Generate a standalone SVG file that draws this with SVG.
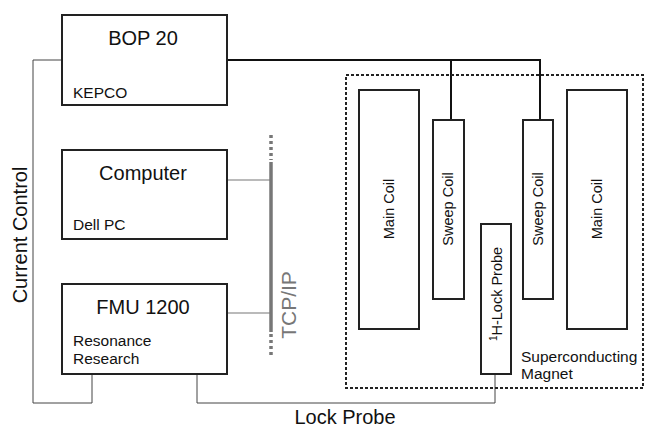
<svg xmlns="http://www.w3.org/2000/svg" width="645" height="427" viewBox="0 0 645 427">
<style>
.box{fill:#fff;stroke:#222;stroke-width:2}
.t{font-family:"Liberation Sans",Arial,sans-serif;fill:#111}
.big{font-size:20px}
.sm{font-size:15.5px}
.coil{font-size:14.5px}
.thin{fill:none;stroke:#444;stroke-width:1}
.gray{fill:none;stroke:#777;stroke-width:1.2}
.heavy{fill:none;stroke:#111;stroke-width:2}
</style>
<rect width="645" height="427" fill="#fff"/>
<g id="connectors">
<polyline class="thin" points="62,60 33,60 33,403 92,403 92,374"/>
<polyline class="thin" points="197,374 197,403 495,403 495,374"/>
<polyline class="heavy" points="227,60 540,60 540,120"/>
<line class="heavy" x1="451" y1="60" x2="451" y2="120"/>
<line class="gray" x1="227" y1="180" x2="271" y2="180"/>
<line class="gray" x1="227" y1="313" x2="271" y2="313"/>
<line x1="271" y1="162" x2="271" y2="332" stroke="#777" stroke-width="3.5"/>
<line x1="271" y1="135" x2="271" y2="160" stroke="#777" stroke-width="3.5" stroke-dasharray="3,3"/>
<line x1="271" y1="334" x2="271" y2="358" stroke="#777" stroke-width="3.5" stroke-dasharray="3,3"/>
</g>
<text class="t" font-size="20" transform="translate(27,235) rotate(-90)" text-anchor="middle">Current Control</text>
<text class="t" font-size="21" style="fill:#777" transform="translate(296,305) rotate(-90)" text-anchor="middle">TCP/IP</text>
<text class="t" font-size="20" x="345" y="424" text-anchor="middle">Lock Probe</text>
<g id="bop20">
<rect class="box" x="62" y="15" width="165" height="90"/>
<text class="t big" x="143" y="45" text-anchor="middle">BOP 20</text>
<text class="t sm" x="73" y="98">KEPCO</text>
</g>
<g id="computer">
<rect class="box" x="62" y="150" width="165" height="89"/>
<text class="t big" x="143" y="180" text-anchor="middle">Computer</text>
<text class="t sm" x="73" y="230">Dell PC</text>
</g>
<g id="fmu1200">
<rect class="box" x="62" y="284" width="165" height="90"/>
<text class="t big" x="143" y="314" text-anchor="middle">FMU 1200</text>
<text class="t sm" x="73" y="346">Resonance</text>
<text class="t sm" x="73" y="364">Research</text>
</g>
<g id="magnet">
<rect x="346" y="75" width="297" height="313" fill="none" stroke="#222" stroke-width="2" stroke-dasharray="3,2"/>
<text class="t sm" x="521" y="362">Superconducting</text>
<text class="t sm" x="521" y="379">Magnet</text>
</g>
<g id="main-coil-left">
<rect class="box" x="359" y="90" width="60" height="239"/>
<text class="t coil" transform="translate(394,209) rotate(-90)" text-anchor="middle">Main Coil</text>
</g>
<g id="sweep-coil-left">
<rect class="box" x="433" y="120" width="31" height="179"/>
<text class="t coil" transform="translate(453,209) rotate(-90)" text-anchor="middle">Sweep Coil</text>
</g>
<g id="lock-probe">
<rect class="box" x="481" y="224" width="30" height="150"/>
<text class="t coil" transform="translate(502,294) rotate(-90)" text-anchor="middle"><tspan font-size="10" dy="-5">1</tspan><tspan dy="5">H-Lock Probe</tspan></text>
</g>
<g id="sweep-coil-right">
<rect class="box" x="523" y="120" width="30" height="179"/>
<text class="t coil" transform="translate(543,209) rotate(-90)" text-anchor="middle">Sweep Coil</text>
</g>
<g id="main-coil-right">
<rect class="box" x="567" y="90" width="60" height="239"/>
<text class="t coil" transform="translate(602,209) rotate(-90)" text-anchor="middle">Main Coil</text>
</g>
</svg>
